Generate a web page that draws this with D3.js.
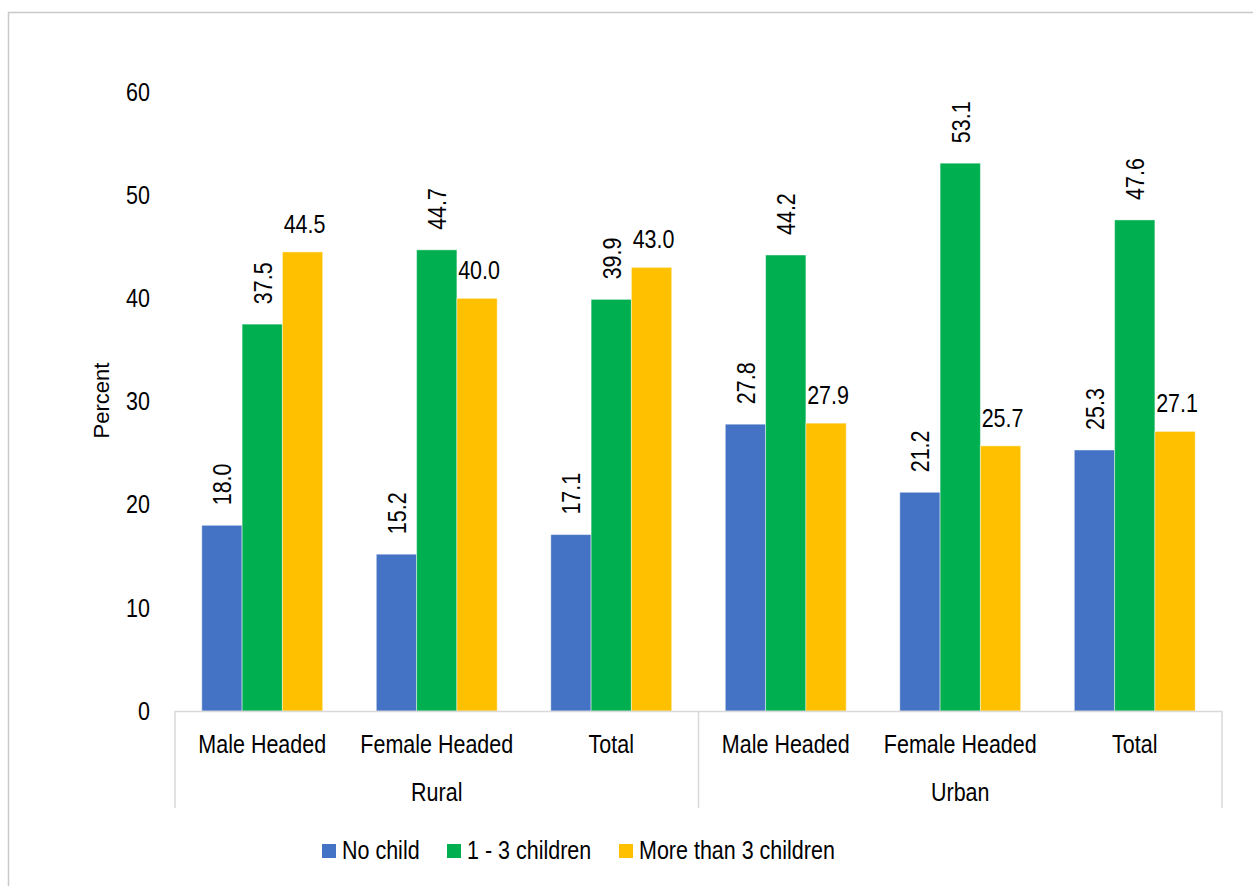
<!DOCTYPE html>
<html>
<head>
<meta charset="utf-8">
<script src="https://cdn.jsdelivr.net/npm/d3@7"></script>
<style>
  body { margin: 0; background: #fff; }
  svg { display: block; }
  text { font-family: "Liberation Sans", Arial, sans-serif; fill: #000; }
</style>
</head>
<body>
<svg id="chart" width="1253" height="886"></svg>
<script>
// Data
const areas = ['Rural', 'Urban'];
const heads = ['Male Headed', 'Female Headed', 'Total'];
const series = ['No child', '1 - 3 children', 'More than 3 children'];
const noChild = [18.0, 15.2, 17.1, 27.8, 21.2, 25.3];
const oneToThree = [37.5, 44.7, 39.9, 44.2, 53.1, 47.6];
const moreThanThree = [44.5, 40.0, 43.0, 27.9, 25.7, 27.1];
const yTicks = [0, 10, 20, 30, 40, 50, 60];

const colors = ['#4472C4', '#00B050', '#FFC000'];
const rotated = [true, true, false]; // label orientation per series

const values = [noChild, oneToThree, moreThanThree];
const categories = [];
areas.forEach((a) => heads.forEach((h) => categories.push({area: a, head: h, key: `${a}|${h}`})));

const svg = d3.select('#chart');
const fontSize = 25;
const narrow = 0.86; // squeeze to mimic a narrow typeface

// outer chart border
svg.append('rect')
  .attr('x', 8.5).attr('y', 12.5)
  .attr('width', 1300).attr('height', 1000)
  .attr('fill', 'none')
  .attr('stroke', '#c9c9c9')
  .attr('stroke-width', 1.5);

const plot = {left: 175, right: 1222, top: 92, bottom: 711};

const x0 = d3.scaleBand()
  .domain(categories.map((c) => c.key))
  .range([plot.left, plot.right])
  .paddingInner(0)
  .paddingOuter(0);

const x1 = d3.scaleBand()
  .domain(series)
  .range([0, x0.bandwidth()])
  .paddingInner(0)
  .paddingOuter(0.665);

const y = d3.scaleLinear()
  .domain([0, 60])
  .range([plot.bottom, plot.top]);

// Y tick labels
svg.append('g').selectAll('text')
  .data(yTicks)
  .join('text')
  .attr('transform', (d) => `translate(150, ${y(d)}) scale(${narrow}, 1)`)
  .attr('dy', '0.35em')
  .attr('text-anchor', 'end')
  .attr('font-size', fontSize)
  .text((d) => d);

// Y title
svg.append('text')
  .attr('transform', `translate(109, ${(plot.top + plot.bottom) / 2 - 1}) rotate(-90)`)
  .attr('text-anchor', 'middle')
  .attr('font-size', 22)
  .text('Percent');

// Bars
const barData = [];
categories.forEach((c, i) => {
  series.forEach((s, j) => {
    barData.push({cat: c.key, s, j, v: values[j][i]});
  });
});

svg.append('g').selectAll('rect')
  .data(barData)
  .join('rect')
  .attr('x', (d) => x0(d.cat) + x1(d.s))
  .attr('y', (d) => y(d.v))
  .attr('width', x1.bandwidth())
  .attr('height', (d) => y(0) - y(d.v))
  .attr('fill', (d) => colors[d.j])
  .attr('stroke', 'rgba(255,255,255,0.45)')
  .attr('stroke-width', 1);

// Value labels
svg.append('g').selectAll('text')
  .data(barData)
  .join('text')
  .attr('font-size', fontSize)
  .attr('transform', (d) => {
    const cx = x0(d.cat) + x1(d.s) + x1.bandwidth() / 2;
    if (rotated[d.j]) {
      return `translate(${cx + 9.5}, ${y(d.v) - 20}) rotate(-90) scale(${narrow}, 1)`;
    }
    return `translate(${cx + 2}, ${y(d.v) - 19}) scale(${narrow}, 1)`;
  })
  .attr('text-anchor', (d) => (rotated[d.j] ? 'start' : 'middle'))
  .text((d) => d.v.toFixed(1));

// X axis line and separators
const axisColor = '#d9d9d9';
svg.append('line')
  .attr('x1', plot.left).attr('x2', plot.right)
  .attr('y1', plot.bottom + 0.5).attr('y2', plot.bottom + 0.5)
  .attr('stroke', axisColor).attr('stroke-width', 1.5);

const sepX = [plot.left, x0(`${areas[1]}|${heads[0]}`), plot.right];
svg.append('g').selectAll('line')
  .data(sepX)
  .join('line')
  .attr('x1', (d) => d).attr('x2', (d) => d)
  .attr('y1', plot.bottom).attr('y2', 808)
  .attr('stroke', axisColor).attr('stroke-width', 1.5);

// Category labels
svg.append('g').selectAll('text')
  .data(categories)
  .join('text')
  .attr('transform', (d) => `translate(${x0(d.key) + x0.bandwidth() / 2}, 753) scale(${narrow}, 1)`)
  .attr('text-anchor', 'middle')
  .attr('font-size', fontSize)
  .text((d) => d.head);

// Area labels
svg.append('g').selectAll('text')
  .data(areas)
  .join('text')
  .attr('transform', (d) => {
    const cx = (x0(`${d}|${heads[0]}`) + x0(`${d}|${heads[2]}`) + x0.bandwidth()) / 2;
    return `translate(${cx}, 801) scale(${narrow}, 1)`;
  })
  .attr('text-anchor', 'middle')
  .attr('font-size', fontSize)
  .text((d) => d);

// Legend
const legendX = [322, 447, 619];
const legend = svg.append('g').selectAll('g')
  .data(series)
  .join('g')
  .attr('transform', (d, i) => `translate(${legendX[i]}, 844)`);
legend.append('rect')
  .attr('width', 14).attr('height', 14)
  .attr('fill', (d, i) => colors[i]);
legend.append('text')
  .attr('transform', `translate(20, 15) scale(${narrow}, 1)`)
  .attr('font-size', fontSize)
  .text((d) => d);
</script>
</body>
</html>
